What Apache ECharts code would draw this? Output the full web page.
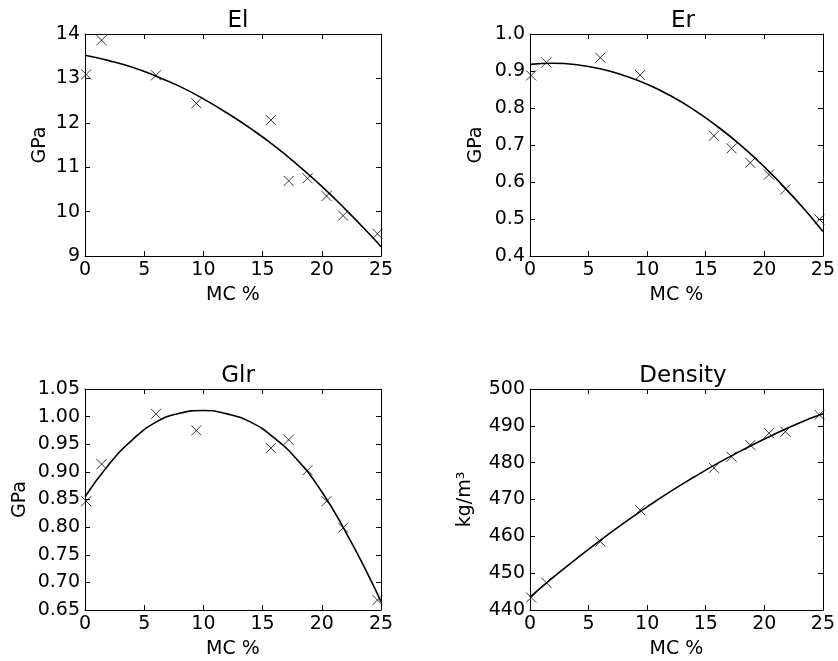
<!DOCTYPE html>
<html>
<head>
<meta charset="utf-8">
<script src="https://cdn.jsdelivr.net/npm/echarts@6/dist/echarts.min.js"></script>
<style>
  html, body { margin: 0; padding: 0; background: #fff; }
  #chart { width: 838px; height: 661px; }
</style>
</head>
<body>
<div id="chart"></div>
<script>
// Moisture content (%) of each measured sample
const mc = [0.1, 1.4, 6.0, 9.4, 15.7, 17.2, 18.8, 20.4, 21.8, 24.7];

// Measured properties
const elValues = [13.09, 13.86, 13.07, 12.44, 12.06, 10.69, 10.75, 10.35, 9.91, 9.50];
const erValues = [0.888, 0.923, 0.936, 0.889, 0.725, 0.691, 0.652, 0.620, 0.580, 0.499];
const glrValues = [0.847, 0.914, 1.005, 0.975, 0.943, 0.958, 0.903, 0.847, 0.799, 0.668];
const densityValues = [443.4, 447.4, 458.6, 467.1, 478.6, 481.6, 484.8, 488.0, 488.4, 493.0];

// Fitted trend curves, sampled along MC
const fitMc = [0, 2, 4, 6, 8, 10, 12, 14, 16, 18, 20, 22, 24, 25];
const elFit = [13.52, 13.40, 13.25, 13.05, 12.82, 12.54, 12.22, 11.87, 11.48, 11.04, 10.57, 10.05, 9.50, 9.21];
const erFit = [0.918, 0.921, 0.917, 0.906, 0.888, 0.864, 0.833, 0.795, 0.750, 0.699, 0.641, 0.576, 0.505, 0.466];
const glrFit = [0.855, 0.913, 0.958, 0.990, 1.006, 1.011, 1.005, 0.990, 0.961, 0.920, 0.864, 0.792, 0.710, 0.665];
const densityFit = [443.5, 448.9, 454.0, 458.9, 463.6, 468.0, 472.2, 476.1, 479.8, 483.2, 486.4, 489.4, 492.1, 493.3];

// Panel titles, axis units and y ranges
const titles = ['El', 'Er', 'Glr', 'Density'];
const yNames = ['GPa', 'GPa', 'GPa', 'kg/m³'];
const yRanges = [[9, 14, 1], [0.4, 1.0, 0.1], [0.65, 1.05, 0.05], [440, 500, 10]];
const yDecimals = [0, 1, 2, 0];
const xRange = [0, 25, 5];
const xName = 'MC %';

const measured = [elValues, erValues, glrValues, densityValues];
const fitted = [elFit, erFit, glrFit, densityFit];

const FONT = 'DejaVu Sans';
const FS = 19;
const grids = [
  { left: 85, top: 34, width: 296, height: 222 },
  { left: 530, top: 34, width: 296, height: 222 },
  { left: 85, top: 389, width: 296, height: 221 },
  { left: 530, top: 389, width: 296, height: 221 }
];
const yNameGaps = [35, 44, 55, 55];
const titlePos = [[233, 5], [678, 5], [233, 360], [678, 360]];

const axisLine = { show: true, onZero: false, lineStyle: { color: '#000', width: 1 } };
const axisTick = { show: true, inside: true, length: 5, lineStyle: { color: '#000', width: 1 } };

const xAxes = [], yAxes = [], series = [], titleList = [];

for (let i = 0; i < 4; i++) {
  const [ymin, ymax, yint] = yRanges[i];
  const dec = yDecimals[i];
  // bottom x axis with labels
  xAxes.push({
    type: 'value', gridIndex: i, position: 'bottom',
    min: xRange[0], max: xRange[1], interval: xRange[2],
    name: xName, nameLocation: 'middle', nameGap: 30,
    nameTextStyle: { fontFamily: FONT, fontSize: FS, color: '#000' },
    axisLine, axisTick,
    axisLabel: { show: true, margin: 5, fontFamily: FONT, fontSize: FS, color: '#000',
                 showMinLabel: true, showMaxLabel: true },
    splitLine: { show: false }
  });
  // top x axis: frame and ticks only
  xAxes.push({
    type: 'value', gridIndex: i, position: 'top',
    min: xRange[0], max: xRange[1], interval: xRange[2],
    axisLine, axisTick, axisLabel: { show: false }, splitLine: { show: false }
  });
  // left y axis with labels
  yAxes.push({
    type: 'value', gridIndex: i, position: 'left',
    min: ymin, max: ymax, interval: yint,
    name: yNames[i], nameLocation: 'middle', nameGap: yNameGaps[i], nameRotate: 90,
    nameTextStyle: { fontFamily: FONT, fontSize: FS, color: '#000' },
    axisLine, axisTick,
    axisLabel: { show: true, margin: 5, fontFamily: FONT, fontSize: FS, color: '#000',
                 showMinLabel: true, showMaxLabel: true,
                 formatter: v => Number(v).toFixed(dec) },
    splitLine: { show: false }
  });
  // right y axis: frame and ticks only
  yAxes.push({
    type: 'value', gridIndex: i, position: 'right',
    min: ymin, max: ymax, interval: yint,
    axisLine, axisTick, axisLabel: { show: false }, splitLine: { show: false }
  });

  series.push({
    type: 'line', xAxisIndex: 2 * i, yAxisIndex: 2 * i,
    data: fitMc.map((x, k) => [x, fitted[i][k]]),
    smooth: true, showSymbol: false, silent: true,
    lineStyle: { color: '#000', width: 1.6 },
    clip: true, z: 2
  });
  series.push({
    type: 'scatter', xAxisIndex: 2 * i, yAxisIndex: 2 * i,
    data: mc.map((x, k) => [x, measured[i][k]]),
    symbol: 'path://M0,0L10,10M10,0L0,10', symbolSize: 10,
    itemStyle: { color: 'transparent', borderColor: '#000', borderWidth: 1 },
    clip: true, silent: true, z: 3
  });

  titleList.push({
    text: titles[i], left: titlePos[i][0], top: titlePos[i][1], textAlign: 'center',
    textStyle: { fontFamily: FONT, fontSize: 23, fontWeight: 'normal', color: '#000' }
  });
}

const chart = echarts.init(document.getElementById('chart'), null, { renderer: 'canvas' });
chart.setOption({
  animation: false,
  backgroundColor: '#fff',
  title: titleList,
  grid: grids,
  xAxis: xAxes,
  yAxis: yAxes,
  series
});
</script>
</body>
</html>
